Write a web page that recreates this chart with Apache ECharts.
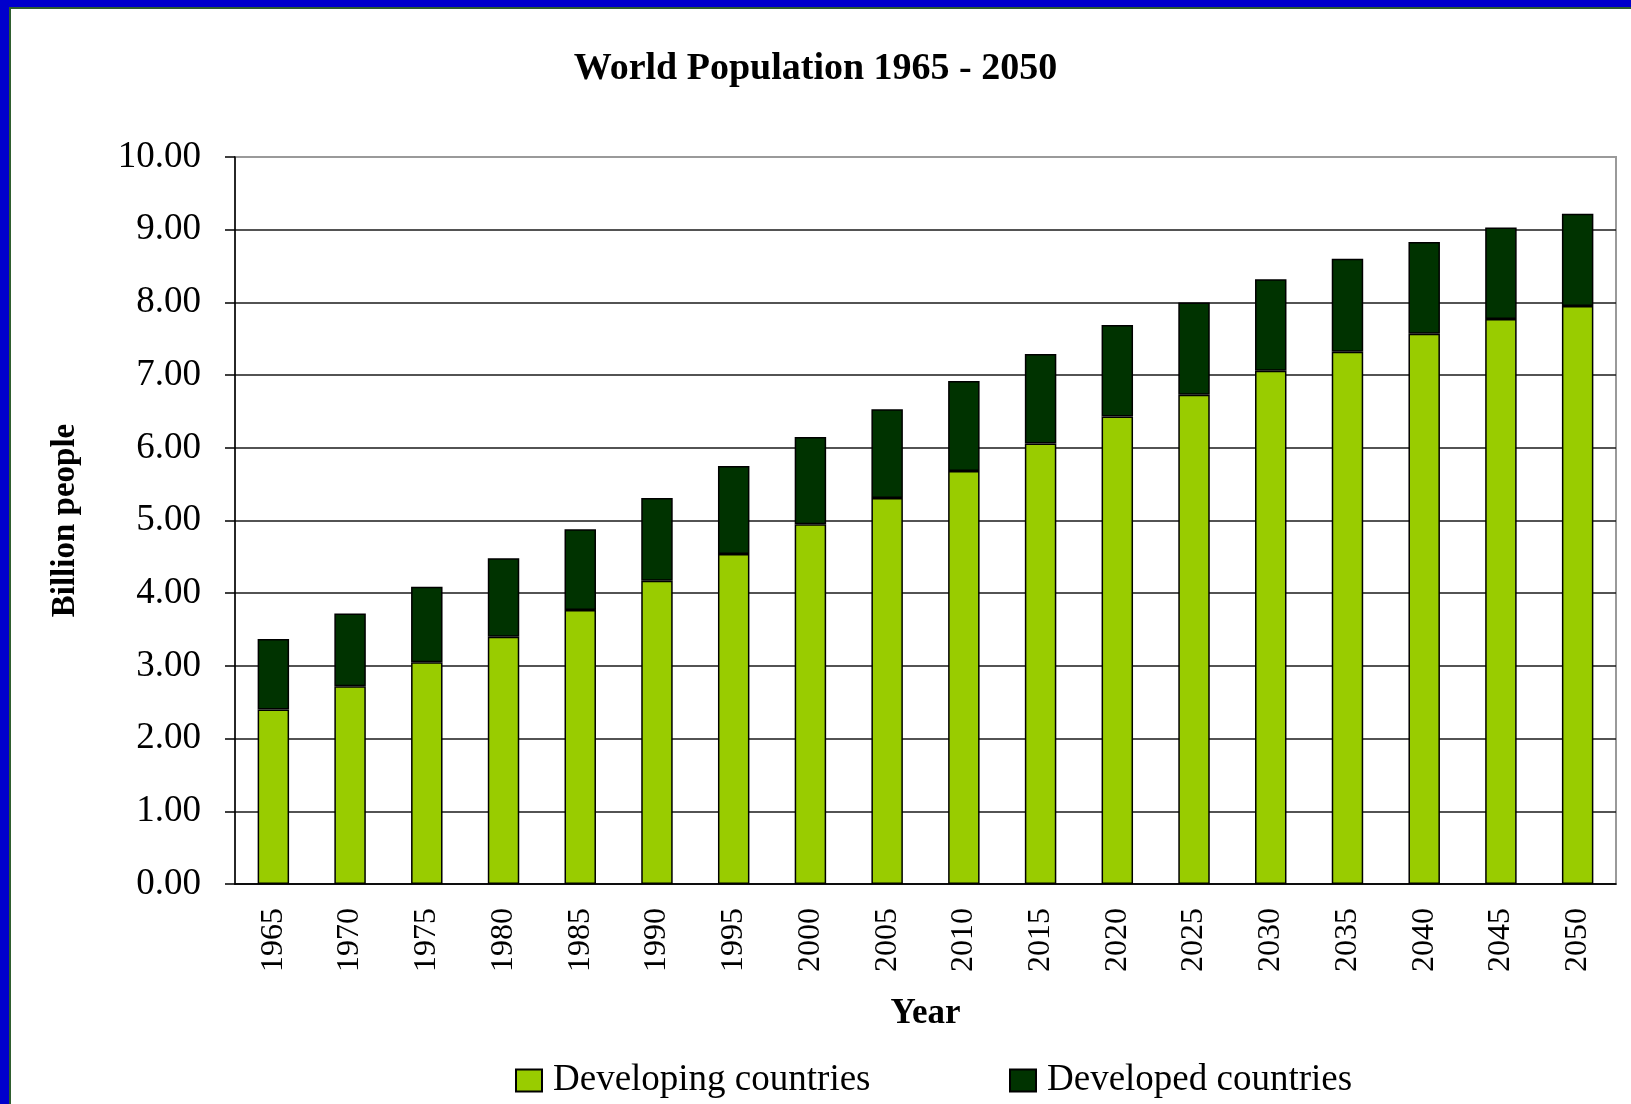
<!DOCTYPE html>
<html>
<head>
<meta charset="utf-8">
<title>World Population 1965 - 2050</title>
<script src="https://cdn.jsdelivr.net/npm/echarts@6/dist/echarts.min.js"></script>
<style>
  html, body { margin: 0; padding: 0; background: #fff; }
  #frame {
    position: absolute; left: 0; top: 0; width: 1631px; height: 1104px;
    box-sizing: border-box;
    border-top: 7px solid #0000cc;
    border-left: 9px solid #0000cc;
    box-shadow: inset 2px 2px 0 #2f5f2f;
  }
  #chart { position: absolute; left: 0; top: 0; width: 1631px; height: 1104px; }
</style>
</head>
<body>
<div id="frame"></div>
<div id="chart"></div>
<script>
// years on the x axis
var years = ["1965", "1970", "1975", "1980", "1985", "1990", "1995", "2000", "2005",
  "2010", "2015", "2020", "2025", "2030", "2035", "2040", "2045", "2050"];

// billion people
var developing = [2.40, 2.72, 3.05, 3.40, 3.77, 4.17, 4.54, 4.95, 5.31,
  5.68, 6.06, 6.43, 6.73, 7.06, 7.32, 7.57, 7.77, 7.95];
var developed = [0.97, 1.00, 1.04, 1.08, 1.11, 1.14, 1.21, 1.20, 1.22,
  1.24, 1.23, 1.26, 1.27, 1.26, 1.28, 1.26, 1.26, 1.27];

var seriesNames = ["Developing countries", "Developed countries"];

var serif = "'Liberation Serif', 'Times New Roman', serif";

var option = {
  backgroundColor: "transparent",
  title: {
    text: "World Population 1965 - 2050",
    left: "center",
    top: 45,
    textStyle: { fontFamily: serif, fontSize: 38, fontWeight: "bold", color: "#000" }
  },
  // two legends so each item sits where it does in the picture
  legend: [
    {
      data: [seriesNames[0]],
      left: 510, top: 1057,
      itemWidth: 26, itemHeight: 22, itemGap: 10,
      icon: "rect",
      textStyle: { fontFamily: serif, fontSize: 37, color: "#000", padding: [0, 0, 0, 6] }
    },
    {
      data: [seriesNames[1]],
      left: 1004, top: 1057,
      itemWidth: 26, itemHeight: 22, itemGap: 10,
      icon: "rect",
      textStyle: { fontFamily: serif, fontSize: 37, color: "#000", padding: [0, 0, 0, 6] }
    }
  ],
  grid: {
    left: 235, right: 15, top: 157, bottom: 220,
    show: true,
    borderColor: "#9a9a9a",
    borderWidth: 2
  },
  xAxis: {
    type: "category",
    data: years,
    name: "Year",
    nameLocation: "middle",
    nameGap: 112,
    nameTextStyle: { fontFamily: serif, fontSize: 35, fontWeight: "bold", color: "#000" },
    axisLine: { lineStyle: { color: "#000", width: 1.5 } },
    axisTick: { length: 10, lineStyle: { color: "#000", width: 1.5 } },
    axisLabel: {
      rotate: 90,
      margin: 24,
      fontFamily: serif, fontSize: 32, color: "#000"
    }
  },
  yAxis: {
    type: "value",
    min: 0, max: 10, interval: 1,
    name: "Billion people",
    nameLocation: "middle",
    nameRotate: 90,
    nameGap: 153,
    nameTextStyle: { fontFamily: serif, fontSize: 33, fontWeight: "bold", color: "#000" },
    axisLine: { show: true, lineStyle: { color: "#000", width: 1.5 } },
    axisTick: { show: true, length: 10, lineStyle: { color: "#000", width: 1.5 } },
    axisLabel: {
      margin: 34,
      fontFamily: serif, fontSize: 37, color: "#000",
      formatter: function (v) { return v.toFixed(2); }
    },
    splitLine: {
      showMaxLine: false,
      lineStyle: { color: "#1a1a1a", width: 1.5 }
    }
  },
  series: [
    {
      name: seriesNames[0],
      type: "bar",
      stack: "pop",
      data: developing,
      barWidth: "41%",
      itemStyle: { color: "#99cc00", borderColor: "#000", borderWidth: 1.5 }
    },
    {
      name: seriesNames[1],
      type: "bar",
      stack: "pop",
      data: developed,
      barWidth: "41%",
      itemStyle: { color: "#003300", borderColor: "#000", borderWidth: 1.5 }
    }
  ]
};

echarts.init(document.getElementById("chart")).setOption(option);
</script>
</body>
</html>
